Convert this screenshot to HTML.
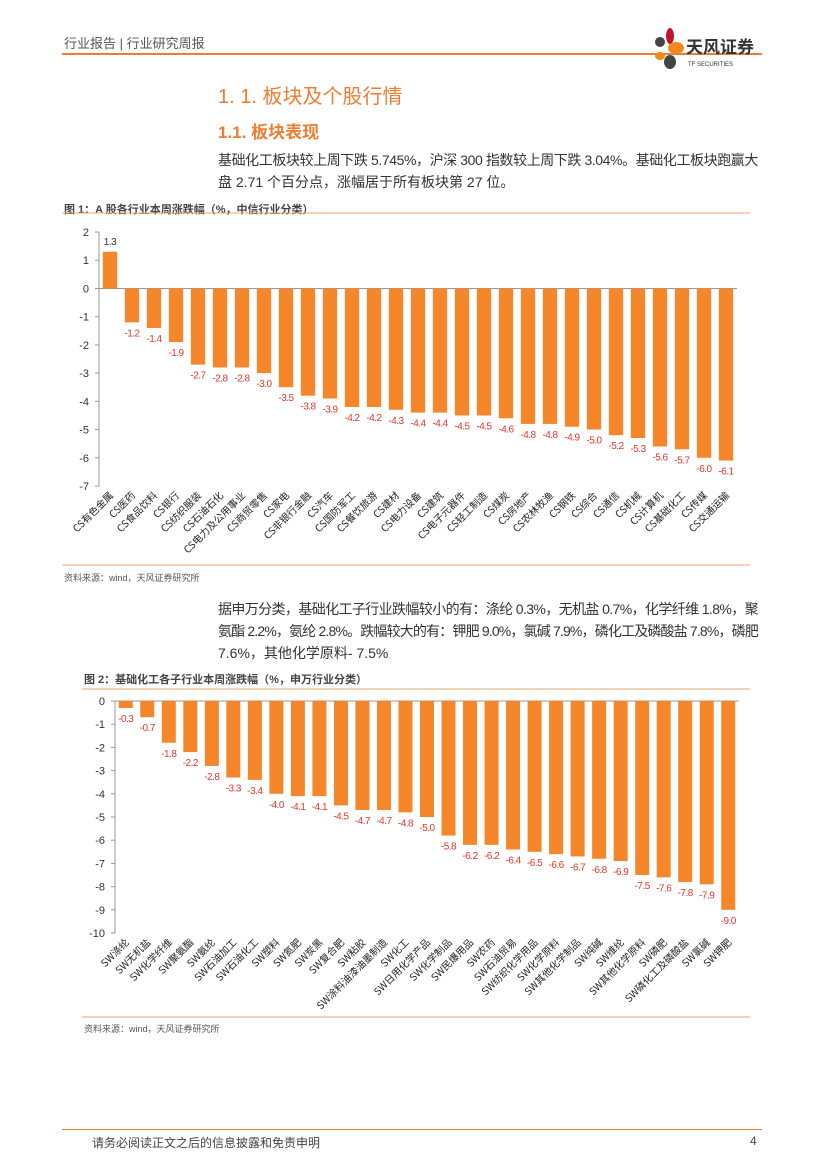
<!DOCTYPE html>
<html><head><meta charset="utf-8"><style>
body{margin:0;width:827px;height:1169px;position:relative;background:#fff;font-family:"Liberation Sans","Noto Sans CJK SC",sans-serif;overflow:hidden}
.a{position:absolute;white-space:nowrap}
.j{position:absolute;font-size:14px;color:#333;white-space:nowrap}
</style></head><body>
<div class="a" style="left:64px;top:33px;font-size:13px;color:#555">行业报告 | 行业研究周报</div>
<div class="a" style="left:62px;top:53px;width:700px;height:2px;background:#ED7D31"></div>
<div class="a" style="left:650px;top:26px;width:112px;height:44px">
<svg width="112" height="44"><circle cx="10" cy="16" r="5" fill="#444"/><ellipse cx="20" cy="10" rx="4" ry="8" fill="#C8102E"/><ellipse cx="26" cy="22" rx="8" ry="6" fill="#F08A1C"/><ellipse cx="10" cy="30" rx="5" ry="4" fill="#F08A1C"/><ellipse cx="20" cy="36" rx="6" ry="7" fill="#444"/>
<text x="36" y="27" font-size="17" font-weight="bold" fill="#333" font-family="Noto Sans CJK SC,sans-serif">天风证券</text><text x="38" y="40" font-size="6" fill="#333">TF SECURITIES</text></svg></div>
<div class="a" style="left:218px;top:80px;font-size:20px;color:#ED7D31">1. 1.  板块及个股行情</div>
<div class="a" style="left:218px;top:118px;font-size:17px;color:#ED7D31;font-weight:bold">1.1. 板块表现</div>
<div>
<span class="j fit" style="left:218px;top:150px">基础化工板块较上周下跌 5.745%，沪深 300 指数较上周下跌 3.04%。基础化工板块跑赢大</span>
<span class="j" style="left:218px;top:172px">盘 2.71 个百分点，涨幅居于所有板块第 27 位。</span>
</div>
<div class="a" style="left:64px;top:201px;font-size:11px;color:#444;font-weight:bold">图 1：A 股各行业本周涨跌幅（%，中信行业分类）</div>
<div class="a" style="left:64px;top:571px;font-size:9px;color:#555">资料来源：wind，天风证券研究所</div>
<div>
<span class="j fit" style="left:218px;top:599px">据申万分类，基础化工子行业跌幅较小的有：涤纶 0.3%，无机盐 0.7%，化学纤维 1.8%，聚</span>
<span class="j fit" style="left:218px;top:621px">氨酯 2.2%，氨纶 2.8%。跌幅较大的有：钾肥 9.0%，氯碱 7.9%，磷化工及磷酸盐 7.8%，磷肥</span>
<span class="j" style="left:218px;top:643px">7.6%，其他化学原料- 7.5%</span>
</div>
<div class="a" style="left:84px;top:671px;font-size:11px;color:#444;font-weight:bold">图 2：基础化工各子行业本周涨跌幅（%，申万行业分类）</div>
<div class="a" style="left:84px;top:1022px;font-size:9px;color:#555">资料来源：wind，天风证券研究所</div>
<div class="a" style="left:62px;top:1129px;width:700px;height:1px;background:#ED7D31"></div>
<div class="a" style="left:92px;top:1134px;font-size:12px;color:#444">请务必阅读正文之后的信息披露和免责申明</div>
<div class="a" style="left:750px;top:1134px;font-size:12px;color:#444">4</div>
<svg id="svg" width="827" height="1169" style="position:absolute;left:0;top:0"></svg>
<script>
document.querySelectorAll('.fit').forEach(s=>{const w=s.getBoundingClientRect().width;const n=s.textContent.length;s.style.letterSpacing=((540-w)/n)+'px';});
const cats1=["CS有色金属","CS医药","CS食品饮料","CS银行","CS纺织服装","CS石油石化","CS电力及公用事业","CS商贸零售","CS家电","CS非银行金融","CS汽车","CS国防军工","CS餐饮旅游","CS建材","CS电力设备","CS建筑","CS电子元器件","CS轻工制造","CS煤炭","CS房地产","CS农林牧渔","CS钢铁","CS综合","CS通信","CS机械","CS计算机","CS基础化工","CS传媒","CS交通运输"];
const vals1=[1.3,-1.2,-1.4,-1.9,-2.7,-2.8,-2.8,-3.0,-3.5,-3.8,-3.9,-4.2,-4.2,-4.3,-4.4,-4.4,-4.5,-4.5,-4.6,-4.8,-4.8,-4.9,-5.0,-5.2,-5.3,-5.6,-5.7,-6.0,-6.1];
const ticks1=[2,1,0,-1,-2,-3,-4,-5,-6,-7];
const cats2=["SW涤纶","SW无机盐","SW化学纤维","SW聚氨酯","SW氨纶","SW石油加工","SW石油化工","SW塑料","SW氮肥","SW炭黑","SW复合肥","SW粘胶","SW涂料油漆油墨制造","SW化工","SW日用化学产品","SW化学制品","SW民爆用品","SW农药","SW石油贸易","SW纺织化学用品","SW化学原料","SW其他化学制品","SW纯碱","SW维纶","SW其他化学原料","SW磷肥","SW磷化工及磷酸盐","SW氯碱","SW钾肥"];
const vals2=[-0.3,-0.7,-1.8,-2.2,-2.8,-3.3,-3.4,-4.0,-4.1,-4.1,-4.5,-4.7,-4.7,-4.8,-5.0,-5.8,-6.2,-6.2,-6.4,-6.5,-6.6,-6.7,-6.8,-6.9,-7.5,-7.6,-7.8,-7.9,-9.0];
const ticks2=[0,-1,-2,-3,-4,-5,-6,-7,-8,-9,-10];
const svg=document.getElementById('svg');const NS='http://www.w3.org/2000/svg';
function mk(t,a,txt){const e=document.createElementNS(NS,t);for(const k in a)e.setAttribute(k,a[k]);if(txt!==undefined)e.textContent=txt;svg.appendChild(e);return e;}
function chart(o){
 const y=v=>o.y0+(o.ymax-v)*(o.y1-o.y0)/(o.ymax-o.ymin);
 const x=i=>o.x0+(i+0.5)*(o.x1-o.x0)/o.cats.length;
 const bw=(o.x1-o.x0)/o.cats.length*0.65;
 let e=mk('line',{x1:o.x0,x2:o.x0,y1:y(o.ymax),y2:y(o.ymin),stroke:'#999'});
 
 
 e=mk('line',{x1:o.x0,x2:o.x1,y1:y(0),y2:y(0),stroke:'#999'});
 
 
 o.ticks.forEach(t=>{mk('line',{x1:o.x0-4,x2:o.x0,y1:y(t),y2:y(t),stroke:'#999'});
  e=mk('text',{x:o.x0-10,y:y(t)+4,'font-size':11,'text-anchor':'end',fill:'#333'},t);
  
  });
 o.vals.forEach((v,i)=>{
  e=mk('rect',{x:x(i)-bw/2,y:Math.min(y(v),y(0)),width:bw,height:Math.abs(y(v)-y(0)),fill:'#F5862A'});
  
  
  const ly=v>=0?y(v)-7:y(v)+14;
  e=mk('text',{x:x(i),y:ly,'font-size':10,'text-anchor':'middle',fill:v>=0?'#333':'#E0372C','letter-spacing':'-0.5'},v.toFixed(1));
  
  
  e=mk('text',{x:x(i)+4,y:o.labY,'font-size':10,'text-anchor':'end',fill:'#222',transform:`rotate(-45 ${x(i)+4} ${o.labY})`,'font-family':'Noto Sans CJK SC,sans-serif'},o.cats[i]);
  
  
 });
}
mk('line',{x1:62,x2:750,y1:213,y2:213,stroke:'#E8A86A'});
mk('line',{x1:62,x2:750,y1:565,y2:565,stroke:'#E8A86A'});
mk('line',{x1:82,x2:750,y1:689,y2:689,stroke:'#E8A86A'});
mk('line',{x1:82,x2:750,y1:1017,y2:1017,stroke:'#E8A86A'});
chart({cats:cats1,vals:vals1,ticks:ticks1,ymax:2,ymin:-7,y0:232,y1:486,x0:99,x1:737,labY:496});
chart({cats:cats2,vals:vals2,ticks:ticks2,ymax:0,ymin:-10,y0:701,y1:933,x0:115,x1:739,labY:943});
</script>
</body></html>
